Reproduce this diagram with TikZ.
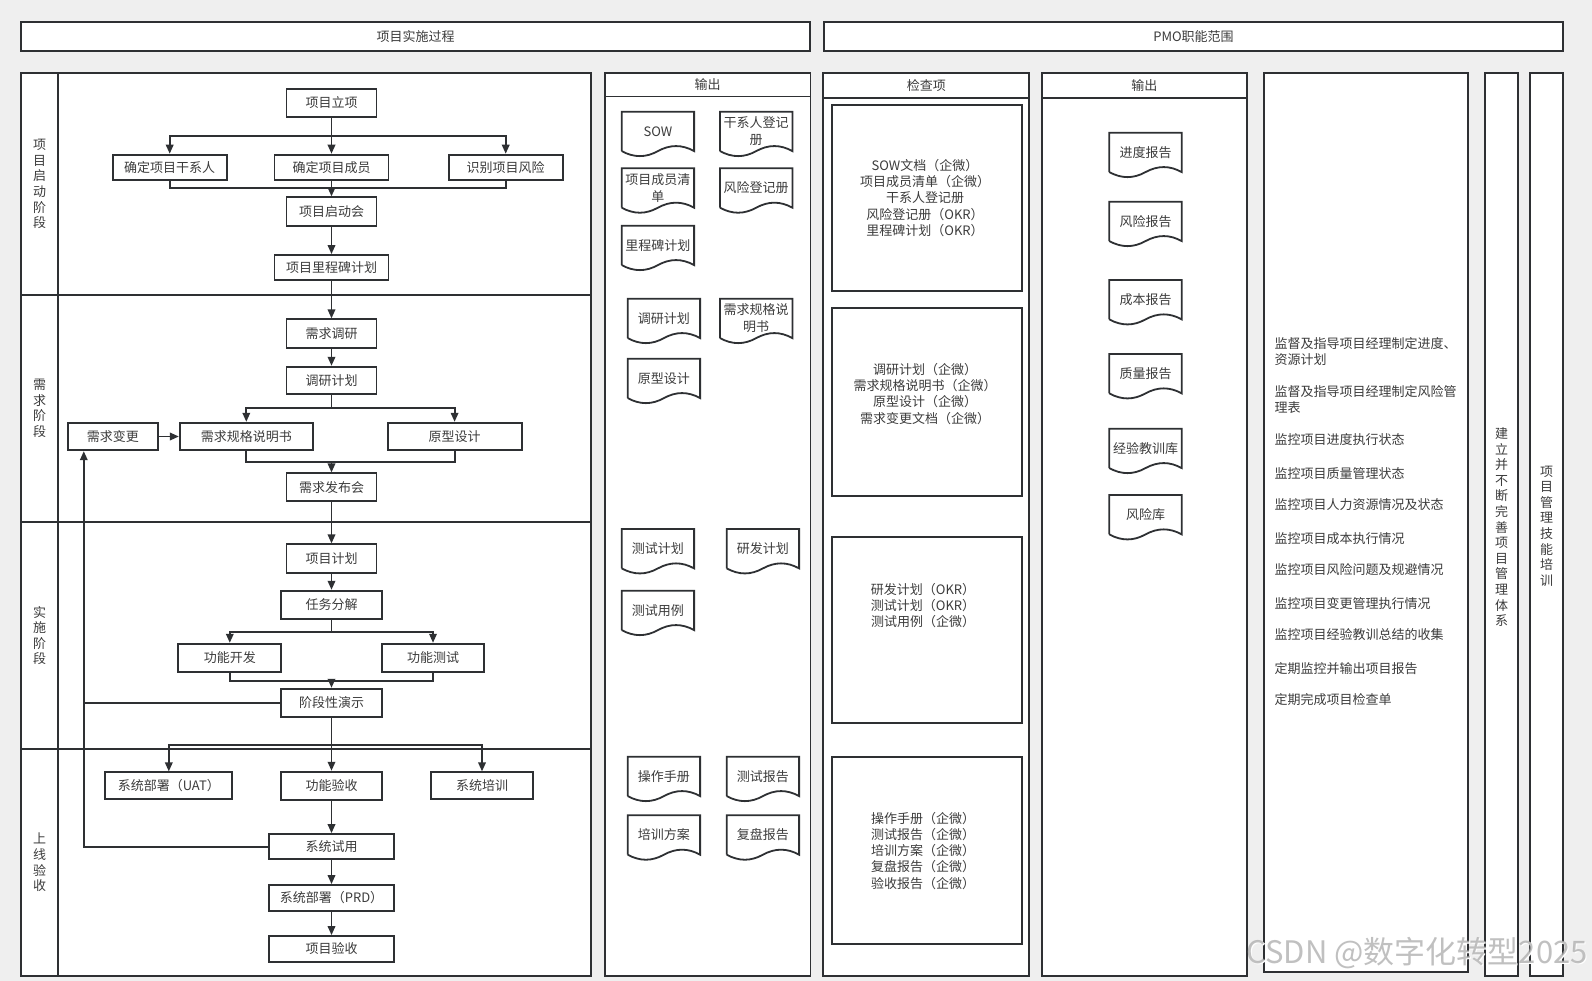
\documentclass[tikz,border=0pt]{standalone}
\usepackage{fontspec}
\setmainfont{Noto Sans CJK SC}
\usetikzlibrary{positioning,arrows.meta,calc}
\definecolor{linec}{HTML}{2E3033}
\definecolor{textc}{HTML}{3C3C3C}
\definecolor{pagec}{HTML}{EFEFEF}
\newcommand{\fs}{\fontsize{13}{16.2}\selectfont}

\tikzset{
  stepbox/.style={draw=linec, line width=1.8pt, fill=white, text=textc, font=\fs, inner sep=0pt, minimum height=28pt},
  flow/.style={draw=linec, line width=1.8pt, -{Triangle[length=9pt,width=7.5pt]}},
  link/.style={draw=linec, line width=1.8pt},
  frame/.style={draw=linec, line width=1.8pt, fill=white},
  docbox/.style={anchor=north west, minimum width=72pt, minimum height=39pt, inner sep=0pt, align=center, text=textc, font=\fontsize{13}{17}\selectfont},
  docline/.style={draw=linec, line width=1.8pt},
  lanelab/.style={text=textc, font=\fontsize{13}{15.6}\selectfont, align=center, inner sep=0pt},
  plain/.style={text=textc, font=\fs, inner sep=0pt},
}

\begin{document}
\begin{tikzpicture}[x=1pt,y=-1pt]

	\fill[pagec] (0,0) rectangle (1592,981);
	\useasboundingbox (0,0) rectangle (1592,981);

	% top headers
	\draw[frame] (21,22) rectangle (810,51);
	\node[plain] (hleft) at (415.5,36.5) {项目实施过程};
	\draw[frame] (824,22) rectangle (1563,51);
	\node[plain] (hright) at (1193.5,36.5) {PMO职能范围};

	% swimlanes
	\draw[frame] (21,73) rectangle (591,976);
	\draw[link] (58,73) -- (58,976);
	\foreach \yy in {295,522,749}
		\draw[link] (21,\yy) -- (591,\yy);
	\node[lanelab] (lane1) at (39.5,184) {项\\目\\启\\动\\阶\\段};
	\node[lanelab] (lane2) at (39.5,408.5) {需\\求\\阶\\段};
	\node[lanelab] (lane3) at (39.5,635.5) {实\\施\\阶\\段};
	\node[lanelab] (lane4) at (39.5,862.5) {上\\线\\验\\收};

	% PMO columns
	\draw[frame] (605,73) rectangle (810.5,976);
	\draw[link] (605,96.5) -- (810.5,96.5);
	\node[plain] (out1h) at (707.7,85) {输出};
	\draw[frame] (823.3,73) rectangle (1029.3,976);
	\draw[link] (823.3,97.7) -- (1029.3,97.7);
	\node[plain] (chkh) at (926.3,85.5) {检查项};
	\draw[frame] (1041.7,73) rectangle (1247,976);
	\draw[link] (1041.7,97.7) -- (1247,97.7);
	\node[plain] (out2h) at (1144.3,85.5) {输出};
	\draw[frame] (1264,73) rectangle (1468.3,972);
	\draw[frame] (1485,73) rectangle (1518.3,976);
	\draw[frame] (1530,73) rectangle (1563.3,976);

	% start phase
	\node[stepbox, minimum width=90pt, minimum height=28.6pt] (lixiang) at (331.5,103) {项目立项};
	\node[stepbox, minimum width=114pt, minimum height=25.3pt] (gxr) at (169.7,167.3) {确定项目干系人};
	\node[stepbox, minimum width=114pt, minimum height=25.3pt] (chengyuan) at (331.5,167.3) {确定项目成员};
	\node[stepbox, minimum width=114pt, minimum height=25.3pt] (fengxian) at (505.7,167.3) {识别项目风险};
	\node[stepbox, minimum width=90pt, minimum height=28.4pt] (qidong) at (331.5,211.5) {项目启动会};
	\node[stepbox, minimum width=114pt, minimum height=25pt] (licheng) at (331.5,267.5) {项目里程碑计划};

	% requirement phase
	\node[stepbox, minimum width=90pt, minimum height=29pt] (diaoyan) at (331.5,333.8) {需求调研};
	\node[stepbox, minimum width=90pt, minimum height=27.6pt] (dyjh) at (331.5,380.5) {调研计划};
	\node[stepbox, minimum width=90pt, minimum height=27.6pt] (biangeng) at (112.9,436.5) {需求变更};
	\node[stepbox, minimum width=133pt, minimum height=27.6pt] (guige) at (246.3,436.5) {需求规格说明书};
	\node[stepbox, minimum width=134pt, minimum height=27.6pt] (yuanxing) at (454.6,436.5) {原型设计};
	\node[stepbox, minimum width=90pt, minimum height=28pt] (fabu) at (331.5,487.3) {需求发布会};

	% implementation phase
	\node[stepbox, minimum width=90pt, minimum height=28.4pt] (xmjh) at (331.5,558.5) {项目计划};
	\node[stepbox, minimum width=101.4pt, minimum height=28.6pt] (fenjie) at (331.5,605) {任务分解};
	\node[stepbox, minimum width=103pt, minimum height=28.6pt] (kaifa) at (229.8,658) {功能开发};
	\node[stepbox, minimum width=102pt, minimum height=28.6pt] (ceshi) at (433,658) {功能测试};
	\node[stepbox, minimum width=101.4pt, minimum height=28.6pt] (yanshi) at (331.5,703) {阶段性演示};

	% go-live phase
	\node[stepbox, minimum width=127pt, minimum height=27pt] (uat) at (168.8,785.8) {系统部署（UAT）};
	\node[stepbox, minimum width=101.4pt, minimum height=28.3pt] (gnys) at (331.5,785.8) {功能验收};
	\node[stepbox, minimum width=102pt, minimum height=27pt] (peixun) at (482,785.8) {系统培训};
	\node[stepbox, minimum width=125pt, minimum height=25.3pt] (shiyong) at (331.5,846.7) {系统试用};
	\node[stepbox, minimum width=125pt, minimum height=26pt] (prd) at (331.5,898) {系统部署（PRD）};
	\node[stepbox, minimum width=125pt, minimum height=26pt] (xmys) at (331.5,949) {项目验收};

	% branch and merge points
	\coordinate (b1) at (331.5,136);
	\coordinate (m1) at (331.5,188.3);
	\coordinate (b2) at (331.5,408.3);
	\coordinate (m2) at (331.5,461.7);
	\coordinate (b3) at (331.5,632);
	\coordinate (m3) at (331.5,680.7);
	\coordinate (b4) at (331.5,744.7);
	\coordinate (fb) at (83.8,846.7);

	\draw[flow] (lixiang) -- (chengyuan);
	\draw[flow] (b1) -| (gxr);
	\draw[flow] (b1) -| (fengxian);
	\draw[link] (gxr) |- (m1) -| (fengxian);
	\draw[flow] (chengyuan) -- (qidong);
	\draw[flow] (qidong) -- (licheng);
	\draw[flow] (licheng) -- (diaoyan);

	\draw[flow] (diaoyan) -- (dyjh);
	\draw[link] (dyjh) -- (b2);
	\draw[flow] (b2) -| (guige);
	\draw[flow] (b2) -| (yuanxing);
	\draw[link] (guige) |- (m2) -| (yuanxing);
	\draw[flow] (m2) -- (fabu);
	\draw[flow] (biangeng) -- (guige);
	\draw[flow] (fabu) -- (xmjh);

	\draw[flow] (xmjh) -- (fenjie);
	\draw[link] (fenjie) -- (b3);
	\draw[flow] (b3) -| (kaifa);
	\draw[flow] (b3) -| (ceshi);
	\draw[link] (kaifa) |- (m3) -| (ceshi);
	\draw[flow] (m3) -- (yanshi);

	\draw[flow] (yanshi) -- (gnys);
	\draw[flow] (b4) -| (uat);
	\draw[flow] (b4) -| (peixun);
	\draw[flow] (gnys) -- (shiyong);
	\draw[flow] (shiyong) -- (prd);
	\draw[flow] (prd) -- (xmys);

	% feedback to change request
	\draw[flow] (shiyong.west) -- (fb) -- (fb |- biangeng.south);
	\draw[link] (yanshi.west) -- (yanshi.west -| fb);

	% output documents
	\foreach \nm/\px/\py/\txt in {
		sow/621.7/111.7/SOW, gxrdj/720/111.7/{干系人登记\\册},
		cyqd/621.7/168.3/{项目成员清\\单}, fxdj/720/168.3/风险登记册,
		lcbjh/621.7/225.7/里程碑计划,
		dyjhd/627.7/298.7/调研计划, ggsm/720/298.7/{需求规格说\\明书},
		yxsj/627.7/358.7/原型设计,
		csjh/621.7/529/测试计划, yfjh/726.7/529/研发计划,
		csyl/621.7/590.7/测试用例,
		czsc/627.7/756.7/操作手册, csbg/726.7/756.7/测试报告,
		pxfa/627.7/815.3/培训方案, fpbg/726.7/815.3/复盘报告,
		jdbg/1109.3/132.7/进度报告, fxbg/1109.3/201.7/风险报告,
		cbbg/1109.3/280/成本报告, zlbg/1109.3/354/质量报告,
		jyjx/1109.3/428.7/经验教训库, fxk/1109.3/495/风险库}
	{
		\node[docbox] (\nm) at (\px,\py) {\txt};
		\draw[docline] (\nm.south west) -- (\nm.north west) -- (\nm.north east) -- (\nm.south east)
			.. controls ($(\nm.south east)+(-12,-6.7)$) and ($(\nm.south east)+(-24,-6.7)$) .. (\nm.south)
			.. controls ($(\nm.south)+(-12,6.7)$) and ($(\nm.south)+(-24,6.7)$) .. (\nm.south west);
	}

	% check items
	\draw[frame] (831.7,105) rectangle (1021.7,291);
	\draw[frame] (831.7,308.3) rectangle (1021.7,495.7);
	\draw[frame] (831.7,536.7) rectangle (1021.7,723.3);
	\draw[frame] (831.7,756.7) rectangle (1021.7,944.3);
	\node[plain, align=center] (chk1) at (925,198) {SOW文档（企微）\\项目成员清单（企微）\\干系人登记册\\风险登记册（OKR）\\里程碑计划（OKR）};
	\node[plain, align=center] (chk2) at (925,393.8) {调研计划（企微）\\需求规格说明书（企微）\\原型设计（企微）\\需求变更文档（企微）};
	\node[plain, align=center] (chk3) at (923,605.3) {研发计划（OKR）\\测试计划（OKR）\\测试用例（企微）};
	\node[plain, align=center] (chk4) at (923,850.8) {操作手册（企微）\\测试报告（企微）\\培训方案（企微）\\复盘报告（企微）\\验收报告（企微）};

	% PMO duties
	\foreach \ty/\txt [count=\i] in {
		351.7/{监督及指导项目经理制定进度、\\资源计划},
		399.5/{监督及指导项目经理制定风险管\\理表},
		440/监控项目进度执行状态, 473.3/监控项目质量管理状态,
		505/监控项目人力资源情况及状态, 538.3/监控项目成本执行情况,
		570/监控项目风险问题及规避情况, 603.3/监控项目变更管理执行情况,
		635/监控项目经验教训总结的收集, 668.3/定期监控并输出项目报告,
		700/定期完成项目检查单}
		\node[plain, anchor=west, align=left] (duty\i) at (1274.3,\ty) {\txt};

	\node[lanelab] (tixi) at (1501.7,527) {建\\立\\并\\不\\断\\完\\善\\项\\目\\管\\理\\体\\系};
	\node[lanelab] (peixunlab) at (1546.7,526) {项\\目\\管\\理\\技\\能\\培\\训};

	% watermark
	\node[text=white, font=\fontsize{31}{33}\selectfont, anchor=east, inner sep=0pt] (markbg) at (1589,954) {CSDN @数字化转型2025};
	\node[text=gray!70, opacity=0.7, font=\fontsize{31}{33}\selectfont, anchor=east, inner sep=0pt] (mark) at (1588,953) {CSDN @数字化转型2025};

\end{tikzpicture}
\end{document}
